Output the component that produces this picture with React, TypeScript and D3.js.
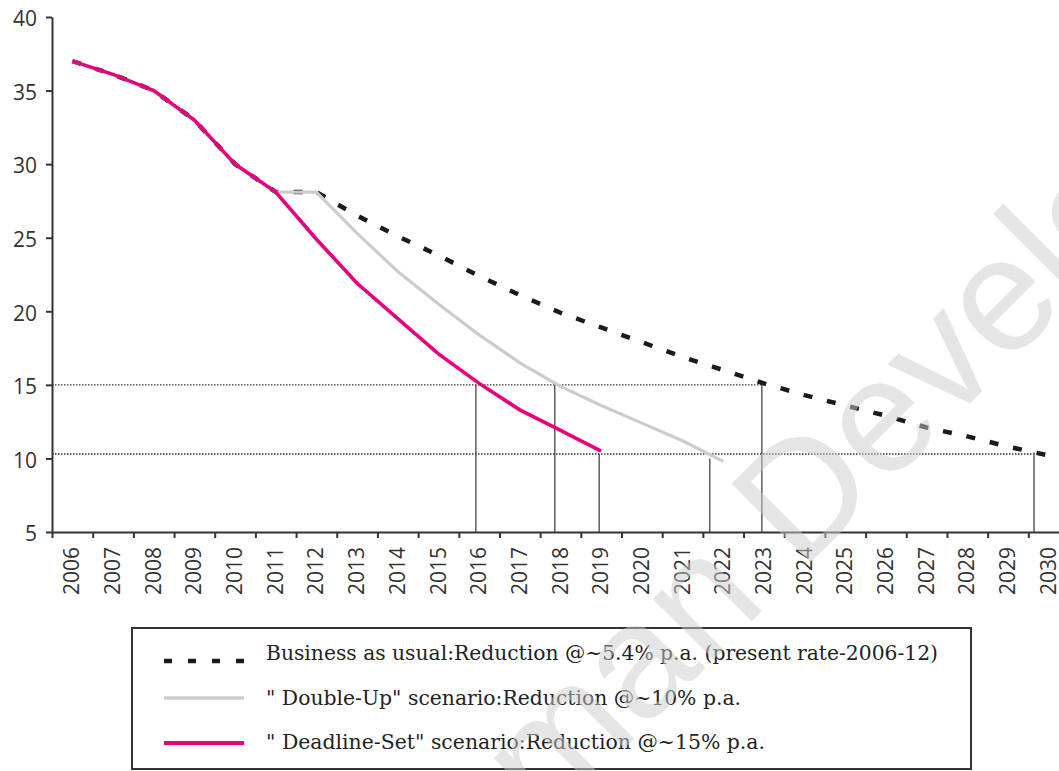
import * as d3 from "d3";
import React, { useRef, useEffect } from "react";

// years on the x axis
const years = [
  2006, 2007, 2008, 2009, 2010, 2011, 2012, 2013, 2014, 2015, 2016, 2017, 2018,
  2019, 2020, 2021, 2022, 2023, 2024, 2025, 2026, 2027, 2028, 2029, 2030,
];

// the three scenarios
const businessAsUsual = [
  37, 36.1, 35, 33.0, 30, 28.1, 28.1, 26.5, 25.1, 23.8, 22.4, 21.1, 19.9, 18.9,
  17.9, 16.9, 16.0, 15.1, 14.3, 13.6, 12.9, 12.1, 11.5, 10.8, 10.2,
];
const doubleUp = [
  37, 36.1, 35, 33.0, 30, 28.1, 28.1, 25.3, 22.7, 20.5, 18.4, 16.5, 14.9, 13.6,
  12.4, 11.2, 9.8,
];
const deadlineSet = [
  37, 36.1, 35, 33.0, 30, 28.1, 24.9, 21.9, 19.5, 17.1, 15.1, 13.3, 11.9, 10.5,
];

const yTicks = [5, 10, 15, 20, 25, 30, 35, 40];

// target levels (dotted) and where each scenario reaches them (drop lines)
const targetLevels = [15, 10.3];
const targetLevelEnds = [2022.95, 2029.64];
const dropYears = [2015.92, 2017.86, 2018.95, 2021.67, 2022.95, 2029.64];
const dropValues = [15, 15, 10.3, 10.0, 15, 10.4];

const legendLabels = [
  "Business as usual:Reduction @~5.4% p.a. (present rate-2006-12)",
  '" Double-Up" scenario:Reduction @~10% p.a.',
  '" Deadline-Set" scenario:Reduction @~15% p.a.',
];
const legendWidths = [672, 475, 499];

const watermarkText = "Human Development";

const ScenarioChart = () => {
  const svgRef = useRef(null);

  useEffect(() => {
    const svg = d3.select(svgRef.current);
    svg.selectAll("*").remove();

    const x = d3.scaleLinear().domain([2005.5, 2030.5]).range([52, 1069]);
    const y = d3.scaleLinear().domain([5, 40]).range([532, 17]);
    const sans = "'Open Sans', sans-serif";
    const ink = "#333333";

    // dotted target lines
    svg.append("g")
      .selectAll("line")
      .data(targetLevels)
      .join("line")
      .attr("x1", x(2005.5))
      .attr("x2", (d, i) => x(targetLevelEnds[i]))
      .attr("y1", (d) => y(d))
      .attr("y2", (d) => y(d))
      .attr("stroke", "#333")
      .attr("stroke-width", 1.4)
      .attr("stroke-dasharray", "1.5,1.5");

    // drop lines down to the axis
    svg.append("g")
      .selectAll("line")
      .data(dropYears)
      .join("line")
      .attr("x1", (d) => x(d))
      .attr("x2", (d) => x(d))
      .attr("y1", y(5))
      .attr("y2", (d, i) => y(dropValues[i]))
      .attr("stroke", "#444")
      .attr("stroke-width", 1.3);

    // x axis: ticks between the years, labels rotated
    const xAxis = d3.axisBottom(x)
      .tickValues(years.map((yr) => yr - 0.5))
      .tickFormat(() => "")
      .tickSize(6)
      .tickSizeOuter(0);
    const gx = svg.append("g")
      .attr("transform", `translate(0,${y(5)})`)
      .call(xAxis);
    gx.select(".domain").attr("stroke", ink).attr("stroke-width", 2);
    gx.selectAll(".tick line").attr("stroke", ink).attr("stroke-width", 2);

    svg.append("g")
      .selectAll("text")
      .data(years)
      .join("text")
      .attr("transform", (d) => `translate(${x(d) - 0.5},${y(5) + 15}) rotate(-90)`)
      .attr("text-anchor", "end")
      .attr("dy", "0.36em")
      .attr("font-family", sans)
      .attr("font-size", 21)
      .attr("fill", ink)
      .text((d) => d);

    // y axis
    const yAxis = d3.axisLeft(y)
      .tickValues(yTicks)
      .tickSize(6)
      .tickSizeOuter(0)
      .tickPadding(9);
    const gy = svg.append("g")
      .attr("transform", `translate(${x(2005.5)},0)`)
      .call(yAxis);
    gy.select(".domain").attr("stroke", ink).attr("stroke-width", 2);
    gy.selectAll(".tick line").attr("stroke", ink).attr("stroke-width", 2);
    gy.selectAll(".tick text")
      .attr("font-family", sans)
      .attr("font-size", 21)
      .attr("fill", ink)
      .attr("dy", "0.42em");

    // scenario lines
    const line = d3.line<number>()
      .x((d, i) => x(years[i]))
      .y((d) => y(d));

    svg.append("path")
      .attr("d", line(businessAsUsual))
      .attr("fill", "none")
      .attr("stroke", "#1a1a1a")
      .attr("stroke-width", 4.5)
      .attr("stroke-dasharray", "9,15");

    svg.append("path")
      .attr("d", line(doubleUp))
      .attr("fill", "none")
      .attr("stroke", "#cccccc")
      .attr("stroke-width", 3.2);

    svg.append("path")
      .attr("d", line(deadlineSet))
      .attr("fill", "none")
      .attr("stroke", "#e6007e")
      .attr("stroke-width", 3.6);

    // legend
    const legend = svg.append("g");
    legend.append("rect")
      .attr("x", 132)
      .attr("y", 628)
      .attr("width", 839)
      .attr("height", 141)
      .attr("fill", "white")
      .attr("stroke", ink)
      .attr("stroke-width", 2);

    const swatchY = [661, 698, 743];
    const textY = [660, 705, 749];
    const swatches = [
      { color: "#1a1a1a", width: 4.5, dash: "8,16" },
      { color: "#cccccc", width: 3.5, dash: null },
      { color: "#e6007e", width: 4, dash: null },
    ];
    swatches.forEach((s, i) => {
      legend.append("line")
        .attr("x1", 164)
        .attr("x2", 244)
        .attr("y1", swatchY[i])
        .attr("y2", swatchY[i])
        .attr("stroke", s.color)
        .attr("stroke-width", s.width)
        .attr("stroke-dasharray", s.dash);
    });
    legend.selectAll("text")
      .data(legendLabels)
      .join("text")
      .attr("x", 266)
      .attr("y", (d, i) => textY[i])
      .attr("font-family", "'DejaVu Serif', serif")
      .attr("font-size", 20)
      .attr("fill", "#222")
      .attr("textLength", (d, i) => legendWidths[i])
      .attr("lengthAdjust", "spacingAndGlyphs")
      .text((d) => d);

    // watermark across the page
    svg.append("text")
      .attr("transform", "translate(400,973) rotate(-45)")
      .attr("font-family", "'Liberation Sans', Arial, sans-serif")
      .attr("font-size", 162)
      .attr("fill", "#cccccc")
      .attr("opacity", 0.5)
      .attr("pointer-events", "none")
      .text(watermarkText);
  });

  return (
    <svg
      ref={svgRef}
      width={1059}
      height={771}
      style={{ position: "absolute", left: 0, top: 0, background: "white" }}
    />
  );
};

export default function App() {
  return <ScenarioChart />;
}
